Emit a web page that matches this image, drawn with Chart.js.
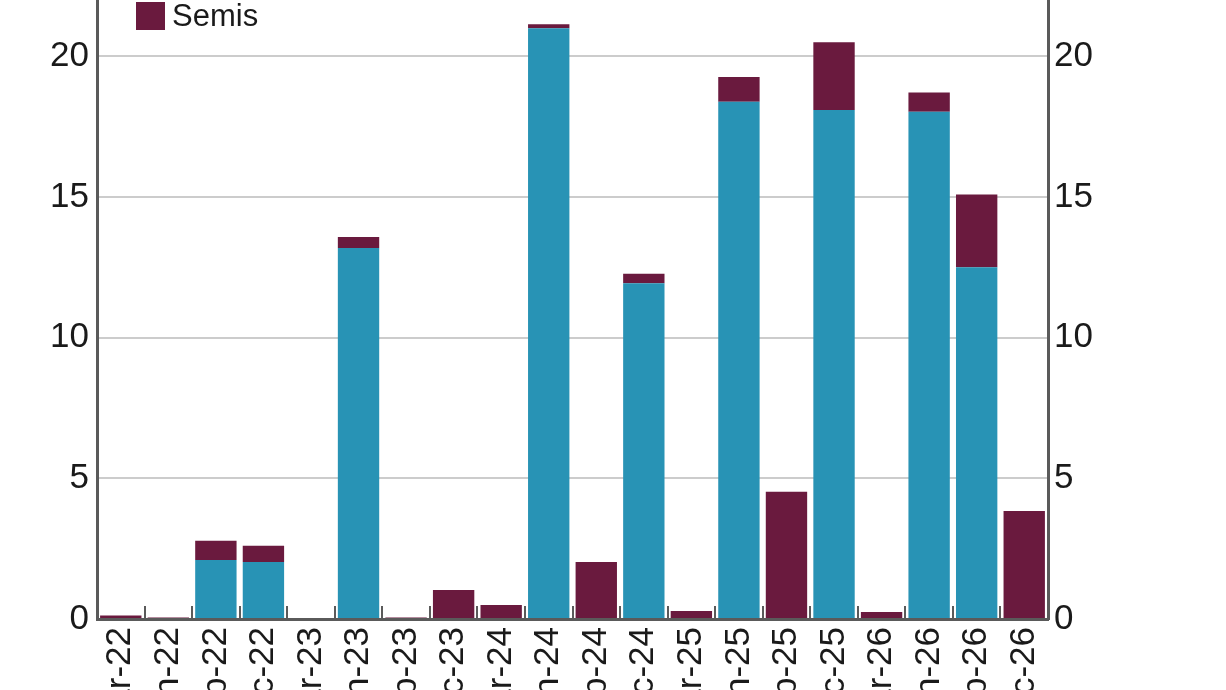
<!DOCTYPE html>
<html>
<head>
<meta charset="utf-8">
<script src="https://cdn.jsdelivr.net/npm/chart.js@4"></script>
<style>
  html, body { margin: 0; padding: 0; background: #fff; overflow: hidden; width: 1226px; height: 690px; }
  #wrap { position: absolute; left: 0; top: -40px; width: 1226px; height: 759px; }
  #legend { position: absolute; left: 136px; top: 1px; font-family: "Liberation Sans", Arial, sans-serif; font-size: 31px; color: #1a1a1a; }
  #legend .item { display: flex; align-items: center; height: 30px; }
  #legend .box { width: 29px; height: 28px; margin-right: 7px; }
</style>
</head>
<body>
<div id="wrap"><canvas id="chart"></canvas></div>
<div id="legend"></div>
<script>
// quarterly categories
const categories = ['Mar-22', 'Jun-22', 'Sep-22', 'Dec-22', 'Mar-23', 'Jun-23', 'Sep-23', 'Dec-23',
    'Mar-24', 'Jun-24', 'Sep-24', 'Dec-24', 'Mar-25', 'Jun-25', 'Sep-25', 'Dec-25',
    'Mar-26', 'Jun-26', 'Sep-26', 'Dec-26'];
const bonds = [0, 0, 2.1, 2.03, 0, 13.19, 0, 0, 0, 21.0, 0, 11.93, 0, 18.38, 0, 18.09, 0, 18.03, 12.5, 0];
const semis = [0.12, 0.05, 0.68, 0.57, 0, 0.39, 0.05, 1.03, 0.5, 0.14, 2.03, 0.34, 0.28, 0.88, 4.52, 2.41, 0.25, 0.68, 2.59, 3.84];
const yTicks = [0, 5, 10, 15, 20];
const yMax = 22;

const blue = '#2893b5';
const maroon = '#6a1a3e';
const axisGrey = '#5a5a5a';
const font = { family: '"Liberation Sans", Arial, sans-serif', size: 35 };

// little ticks pointing up from the x axis between categories
const boundaryTicks = {
    id: 'boundaryTicks',
    afterDraw: function (chart) {
        const xs = chart.scales.x;
        const ctx = chart.ctx;
        const bottom = chart.chartArea.bottom;
        ctx.save();
        ctx.strokeStyle = axisGrey;
        ctx.lineWidth = 2;
        for (let i = 1; i < categories.length; i++) {
            const x = Math.round((xs.getPixelForValue(i - 1) + xs.getPixelForValue(i)) / 2);
            ctx.beginPath();
            ctx.moveTo(x, bottom);
            ctx.lineTo(x, bottom - 13);
            ctx.stroke();
        }
        ctx.restore();
    }
};

function yAxis(position, width) {
    return {
        position: position,
        stacked: position === 'left',
        min: 0,
        max: yMax,
        afterBuildTicks: function (scale) {
            scale.ticks = yTicks.map(function (v) { return { value: v }; });
        },
        afterFit: function (scale) {
            scale.width = width;
            scale.paddingTop = 0;
            scale.paddingBottom = 0;
        },
        grid: {
            drawOnChartArea: position === 'left',
            drawTicks: false,
            color: '#cccccc',
            lineWidth: 2
        },
        border: { display: true, color: axisGrey, width: 3 },
        ticks: { font: font, color: '#1a1a1a', padding: position === 'left' ? 8 : 6 }
    };
}

new Chart(document.getElementById('chart').getContext('2d'), {
    type: 'bar',
    data: {
        labels: categories,
        datasets: [
            { label: 'Bonds', data: bonds, backgroundColor: blue, yAxisID: 'y' },
            { label: 'Semis', data: semis, backgroundColor: maroon, yAxisID: 'y' }
        ]
    },
    options: {
        responsive: true,
        maintainAspectRatio: false,
        animation: false,
        layout: { padding: { top: 40, left: 0, right: 0, bottom: 0 } },
        datasets: { bar: { barPercentage: 0.87, categoryPercentage: 1 } },
        plugins: { legend: { display: false }, tooltip: { enabled: false } },
        scales: {
            x: {
                stacked: true,
                afterFit: function (scale) {
                    scale.height = 100;
                    scale.paddingLeft = 0;
                    scale.paddingRight = 0;
                },
                grid: { display: false, drawTicks: false },
                border: { display: true, color: axisGrey, width: 3 },
                ticks: { font: font, color: '#1a1a1a', minRotation: 90, maxRotation: 90, padding: 8, autoSkip: false }
            },
            y: yAxis('left', 97),
            y2: yAxis('right', 178)
        }
    },
    plugins: [boundaryTicks]
});

// legend: only the Semis entry is inside the visible crop
const legend = document.getElementById('legend');
[{ label: 'Semis', color: maroon }].forEach(function (item) {
    const row = document.createElement('div');
    row.className = 'item';
    row.innerHTML = '<span class="box" style="background:' + item.color + '"></span><span>' + item.label + '</span>';
    legend.appendChild(row);
});
</script>
</body>
</html>
